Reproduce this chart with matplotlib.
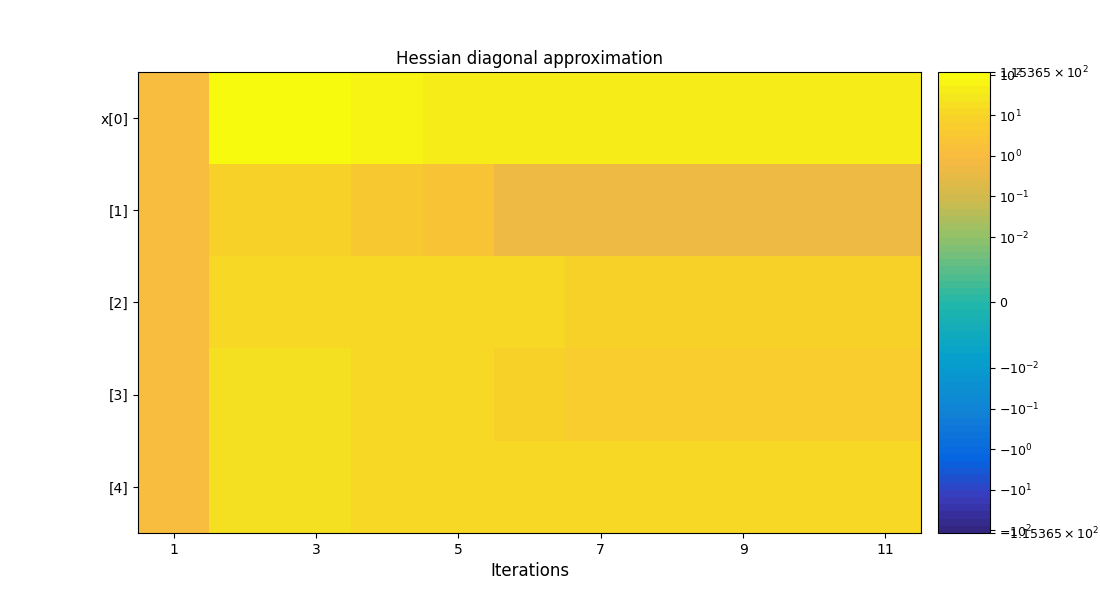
import matplotlib
matplotlib.use('Agg')
import matplotlib.pyplot as plt
import numpy as np
from matplotlib.colors import LinearSegmentedColormap, ListedColormap, SymLogNorm

iterations = list(range(1, 12))
row_labels = ['x[0]', '[1]', '[2]', '[3]', '[4]']

# Hessian diagonal per iteration (rows = variables, columns = iterations)
h0 = [1.0, 115.365, 115.365, 60.0, 40.0, 40.0, 40.0, 40.0, 40.0, 40.0, 40.0]
h1 = [1.0, 8.0, 8.0, 3.0, 2.5, 0.45, 0.45, 0.45, 0.45, 0.45, 0.45]
h2 = [1.0, 10.0, 10.0, 10.0, 10.0, 10.0, 7.0, 7.0, 7.0, 7.0, 7.0]
h3 = [1.0, 20.0, 20.0, 12.0, 12.0, 8.0, 5.5, 5.5, 5.5, 5.5, 5.5]
h4 = [1.0, 20.0, 20.0, 13.0, 13.0, 13.0, 13.0, 13.0, 13.0, 13.0, 13.0]

data = np.array([h0, h1, h2, h3, h4])
vmax = 115.365

# parula-like colormap, 64 levels
anchors = [
    (0.00, (0.200, 0.150, 0.500)),
    (0.07, (0.230, 0.230, 0.740)),
    (0.15, (0.020, 0.390, 0.880)),
    (0.25, (0.070, 0.500, 0.840)),
    (0.38, (0.020, 0.630, 0.800)),
    (0.50, (0.130, 0.720, 0.660)),
    (0.64, (0.560, 0.760, 0.420)),
    (0.73, (0.820, 0.730, 0.300)),
    (0.82, (0.975, 0.730, 0.255)),
    (0.905, (0.975, 0.820, 0.160)),
    (0.95, (0.960, 0.900, 0.120)),
    (1.00, (0.976, 0.983, 0.054)),
]
base = LinearSegmentedColormap.from_list('parula_like', anchors)
parula = ListedColormap(base(np.linspace(0, 1, 64)))

norm = SymLogNorm(linthresh=0.01, linscale=1.45, vmin=-vmax, vmax=vmax, base=10)

fig = plt.figure(figsize=(11, 6), dpi=100)
ax = fig.add_axes([0.1255, 0.1117, 0.7118, 0.7683])
cax = fig.add_axes([0.8527, 0.1117, 0.0473, 0.7683])

im = ax.imshow(data, cmap=parula, norm=norm, aspect='auto',
               extent=(0.5, 11.5, 4.5, -0.5), interpolation='nearest')
ax.set_xticks(iterations[::2])
ax.set_yticks(range(len(row_labels)))
ax.set_yticklabels(row_labels)
ax.set_xlabel('Iterations', fontsize=12)
ax.set_title('Hessian diagonal approximation', fontsize=12)

cbar = fig.colorbar(im, cax=cax)
cbar.set_ticks([-vmax, -100, -10, -1, -0.1, -0.01, 0, 0.01, 0.1, 1, 10, 100, vmax])
cbar.ax.tick_params(labelsize=9, pad=3)

fig.savefig('out.png', dpi=100)
